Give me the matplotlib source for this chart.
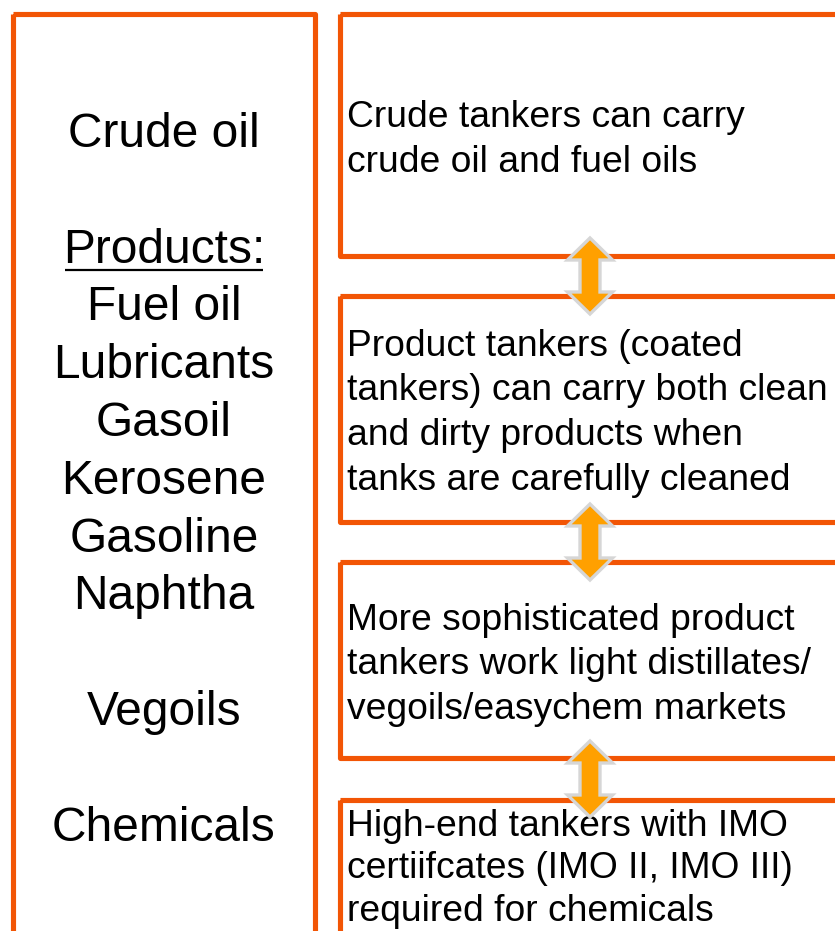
import matplotlib
matplotlib.use("Agg")
import matplotlib.pyplot as plt
from matplotlib.patches import Rectangle, Polygon

plt.rcParams["font.family"] = ["Liberation Sans", "DejaVu Sans"]

# left column: cargo types (blank entries keep the line rhythm)
left_lines = ["Crude oil", "", "Products:", "Fuel oil", "Lubricants", "Gasoil",
              "Kerosene", "Gasoline", "Naphtha", "", "Vegoils", "", "Chemicals"]
underlined = ["Products:"]

# right column: tanker classes, one box each
right_texts = [
    ["Crude tankers can carry", "crude oil and fuel oils"],
    ["Product tankers (coated", "tankers) can carry both clean",
     "and dirty products when", "tanks are carefully cleaned"],
    ["More sophisticated product", "tankers work light distillates/",
     "vegoils/easychem markets"],
    ["High-end tankers with IMO", "certiifcates (IMO II, IMO III)",
     "required for chemicals"],
]

# layout in pixels (y downwards)
W, H = 835, 931
box_tops = [14, 296, 562, 800]
box_bottoms = [256, 522, 758, 1000]
first_baselines = [127, 356, 630, 836]
right_steps = [44.5, 44.5, 44.5, 42.5]
left_first_baseline = 147
left_step = 57.8

ORANGE = "#F25505"
ARROW_FILL = "#FFA000"
ARROW_EDGE = "#D6D6D6"

fig = plt.figure(figsize=(W / 100, H / 100), dpi=100, facecolor="white")
ax = fig.add_axes([0, 0, 1, 1])
ax.set_xlim(0, W)
ax.set_ylim(H, 0)
ax.axis("off")

# left box (runs off the bottom)
ax.add_patch(Rectangle((13, 14), 302, 1000, fill=False, ec=ORANGE, lw=3.7,
                       joinstyle="round", zorder=2))

# right boxes (run off the right edge)
for top, bot in zip(box_tops, box_bottoms):
    ax.add_patch(Rectangle((340, top), 600, bot - top, fill=False, ec=ORANGE,
                           lw=3.7, joinstyle="round", zorder=2))

# left labels
left_cx = (13 + 315) / 2
for i, label in enumerate(left_lines):
    if not label:
        continue
    y = left_first_baseline + i * left_step
    t = ax.text(left_cx, y, label, ha="center", va="baseline", fontsize=34.5,
                color="black", zorder=3)
    if label in underlined:
        fig.canvas.draw()
        bb = t.get_window_extent().transformed(ax.transData.inverted())
        ax.plot([bb.x0 + 2, bb.x1 - 2], [y + 7, y + 7], color="black", lw=1.6,
                solid_capstyle="butt", zorder=3)

# right texts
for lines, y0, step in zip(right_texts, first_baselines, right_steps):
    for j, line in enumerate(lines):
        ax.text(347, y0 + j * step, line, ha="left", va="baseline",
                fontsize=26.8, color="black", zorder=3)


def double_arrow(cx, y_top, y_bot, head_w=45, shaft_w=20, head_len=22):
    hw, sw = head_w / 2, shaft_w / 2
    pts = [(cx, y_top), (cx + hw, y_top + head_len), (cx + sw, y_top + head_len),
           (cx + sw, y_bot - head_len), (cx + hw, y_bot - head_len), (cx, y_bot),
           (cx - hw, y_bot - head_len), (cx - sw, y_bot - head_len),
           (cx - sw, y_top + head_len), (cx - hw, y_top + head_len)]
    ax.add_patch(Polygon(pts, closed=True, fc=ARROW_FILL, ec=ARROW_EDGE, lw=2.4,
                         joinstyle="miter", zorder=4))


# arrows between neighbouring boxes
for k in range(len(box_tops) - 1):
    mid = (box_bottoms[k] + box_tops[k + 1]) / 2
    double_arrow(590, mid - 38, mid + 38)

fig.savefig("out.png", dpi=100, facecolor="white")
plt.close(fig)
